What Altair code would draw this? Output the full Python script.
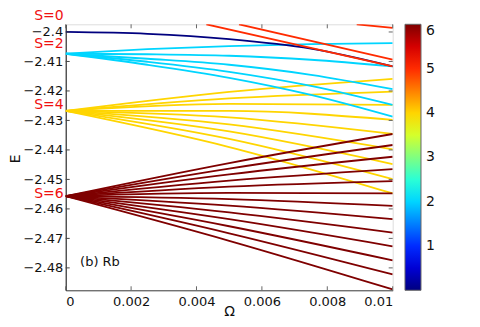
import altair as alt
import pandas as pd

# ---- data ----
OMEGA_FINE = [0.0, 0.0025, 0.005, 0.0075, 0.01]
OMEGA_COARSE = [0.0, 0.005, 0.01]

S0_LINES = [[-2.4000, -2.40065, -2.40245, -2.40568, -2.41170]]
S2_LINES = [
    [-2.40738, -2.40585, -2.40483, -2.40415, -2.40381],
    [-2.40738, -2.40755, -2.40806, -2.40942, -2.41170],
    [-2.40738, -2.40908, -2.41112, -2.41452, -2.41939],
    [-2.40738, -2.41010, -2.41350, -2.41827, -2.42473],
    [-2.40738, -2.41112, -2.41554, -2.42133, -2.42871],
]
S4_LINES = [
    [-2.42677, -2.42031, -2.41588],
    [-2.42677, -2.42252, -2.42020],
    [-2.42677, -2.42439, -2.42473],
    [-2.42677, -2.42677, -2.42983],
    [-2.42677, -2.42898, -2.43459],
    [-2.42677, -2.43136, -2.43980],
    [-2.42677, -2.43374, -2.44480],
    [-2.42677, -2.43629, -2.44990],
    [-2.42677, -2.43901, -2.45476],
]
S6_LINES = [
    [-2.45568, -2.44446, -2.43459],
    [-2.45568, -2.44633, -2.43833],
    [-2.45568, -2.44830, -2.44231],
    [-2.45568, -2.45041, -2.44650],
    [-2.45568, -2.45245, -2.45058],
    [-2.45568, -2.45456, -2.45476],
    [-2.45568, -2.45667, -2.45898],
    [-2.45568, -2.45891, -2.46350],
    [-2.45568, -2.46119, -2.46803],
    [-2.45568, -2.46350, -2.47269],
    [-2.45568, -2.46588, -2.47745],
    [-2.45568, -2.46827, -2.48221],
    [-2.45568, -2.47082, -2.48731],
]
RED_OMEGA = [[0.0043, 0.01], [0.0053, 0.01], [0.0089, 0.01]]
RED_LINES = [[-2.3974, -2.4117], [-2.3974, -2.4094], [-2.3974, -2.3986]]
RED_LEVEL = 5.0

LABELS = ["S=0", "S=2", "S=4", "S=6"]
LABEL_E = [-2.3947, -2.4040, -2.4246, -2.4550]
NOTE = ["(b) Rb"]
NOTE_OMEGA = [0.00044]
NOTE_E = [-2.4781]

X_TICKS = [0.0, 0.002, 0.004, 0.006, 0.008, 0.01]
Y_TICKS = [-2.48, -2.47, -2.46, -2.45, -2.44, -2.43, -2.42, -2.41, -2.40]
CBAR_TICKS = [1, 2, 3, 4, 5, 6]
JET_STOPS = [0, 0.75, 2.25, 3.75, 5.25, 6]
JET_COLORS = ["#00007f", "#0000ff", "#00ffff", "#ffff00", "#ff0000", "#7f0000"]

X_DOMAIN = [0.0, 0.01]
Y_DOMAIN = [-2.4876, -2.3974]

# ---- build table ----
rows = []


def add(level, omegas, lines, prefix):
    for i, es in enumerate(lines):
        om = omegas[i] if isinstance(omegas[0], list) else omegas
        for o, e in zip(om, es):
            rows.append({"line": f"{prefix}{i}", "omega": o, "E": e, "level": level})


add(4, OMEGA_COARSE, S4_LINES, "s4_")
add(6, OMEGA_COARSE, S6_LINES, "s6_")
add(2, OMEGA_FINE, S2_LINES, "s2_")
add(0, OMEGA_FINE, S0_LINES, "s0_")
add(RED_LEVEL, RED_OMEGA, RED_LINES, "r_")
df = pd.DataFrame(rows)

labels_df = pd.DataFrame({"t": LABELS, "E": LABEL_E, "omega": [0.0] * len(LABELS)})
note_df = pd.DataFrame({"t": NOTE, "E": NOTE_E, "omega": NOTE_OMEGA})
xt_df = pd.DataFrame({"omega": X_TICKS})
yt_df = pd.DataFrame({"E": Y_TICKS})

W, H = 327, 266
FONT = "DejaVu Sans"

xs = alt.Scale(domain=X_DOMAIN, nice=False, zero=False)
ys = alt.Scale(domain=Y_DOMAIN, nice=False, zero=False)
cs = alt.Scale(domain=JET_STOPS, range=JET_COLORS, interpolate="rgb")

X_AXIS = alt.Axis(values=X_TICKS, format="~g", title="Ω", ticks=False,
                  labelPadding=5, domainColor="#444", labelOverlap=False,
                  labelFontSize=13, titleFontSize=14, labelFont=FONT,
                  titleFont=FONT, titleFontWeight="normal", grid=False,
                  titleX=163.5, titleY=25, titleBaseline="alphabetic",
                  labelColor="#111", titleColor="#111")
Y_AXIS = alt.Axis(values=Y_TICKS, format="~g", title="E", ticks=False,
                  labelPadding=3, domainColor="#111", labelOverlap=False,
                  labelFontSize=13, titleFontSize=14, labelFont=FONT,
                  titleFont=FONT, titleFontWeight="normal", grid=False,
                  titleX=-50, titleY=134, titleAngle=-90,
                  titleBaseline="middle", titleAlign="center",
                  labelColor="#111", titleColor="#111")
X_ENC = alt.X("omega:Q", scale=xs, axis=X_AXIS)
Y_ENC = alt.Y("E:Q", scale=ys, axis=Y_AXIS)

lines = alt.Chart(df).mark_line(strokeWidth=1.8, clip=True, interpolate="monotone").encode(
    x=X_ENC,
    y=Y_ENC,
    color=alt.Color("level:Q", scale=cs,
                    legend=alt.Legend(orient="none", legendX=339.3, legendY=0,
                                      direction="vertical", gradientLength=H,
                                      gradientThickness=16, values=CBAR_TICKS,
                                      labelFontSize=14, labelFont=FONT,
                                      labelColor="#111", padding=0, title=None,
                                      gradientStrokeColor="#666",
                                      gradientStrokeWidth=1, labelOffset=5)),
    detail="line:N",
)

slabels = alt.Chart(labels_df).mark_text(align="right", baseline="middle", dx=-2,
                                         fontSize=14, font=FONT, color="#f01010").encode(
    x=X_ENC, y=Y_ENC, text="t:N")

note = alt.Chart(note_df).mark_text(align="left", baseline="middle", fontSize=13,
                                    font=FONT, color="#111").encode(
    x=X_ENC, y=Y_ENC, text="t:N")

tick_top = alt.Chart(xt_df).mark_rule(color="#666").encode(
    x=X_ENC, y=alt.value(0), y2=alt.value(4))
tick_bot = alt.Chart(xt_df).mark_rule(color="#666").encode(
    x=X_ENC, y=alt.value(H - 4), y2=alt.value(H))
tick_left = alt.Chart(yt_df).mark_rule(color="#444").encode(
    y=Y_ENC, x=alt.value(0), x2=alt.value(4))
tick_right = alt.Chart(yt_df).mark_rule(color="#666").encode(
    y=Y_ENC, x=alt.value(W - 4), x2=alt.value(W))

chart = alt.layer(lines, tick_top, tick_bot, tick_left, tick_right, slabels, note).properties(
    width=W, height=H,
    autosize=alt.AutoSizeParams(type="none"),
    padding={"left": 57.7, "top": 16.3, "right": 79, "bottom": 28},
).configure_view(stroke="#808080", strokeWidth=1.5).configure(background="white")

chart.save("out.html", embed_options={"renderer": "svg", "actions": False})
